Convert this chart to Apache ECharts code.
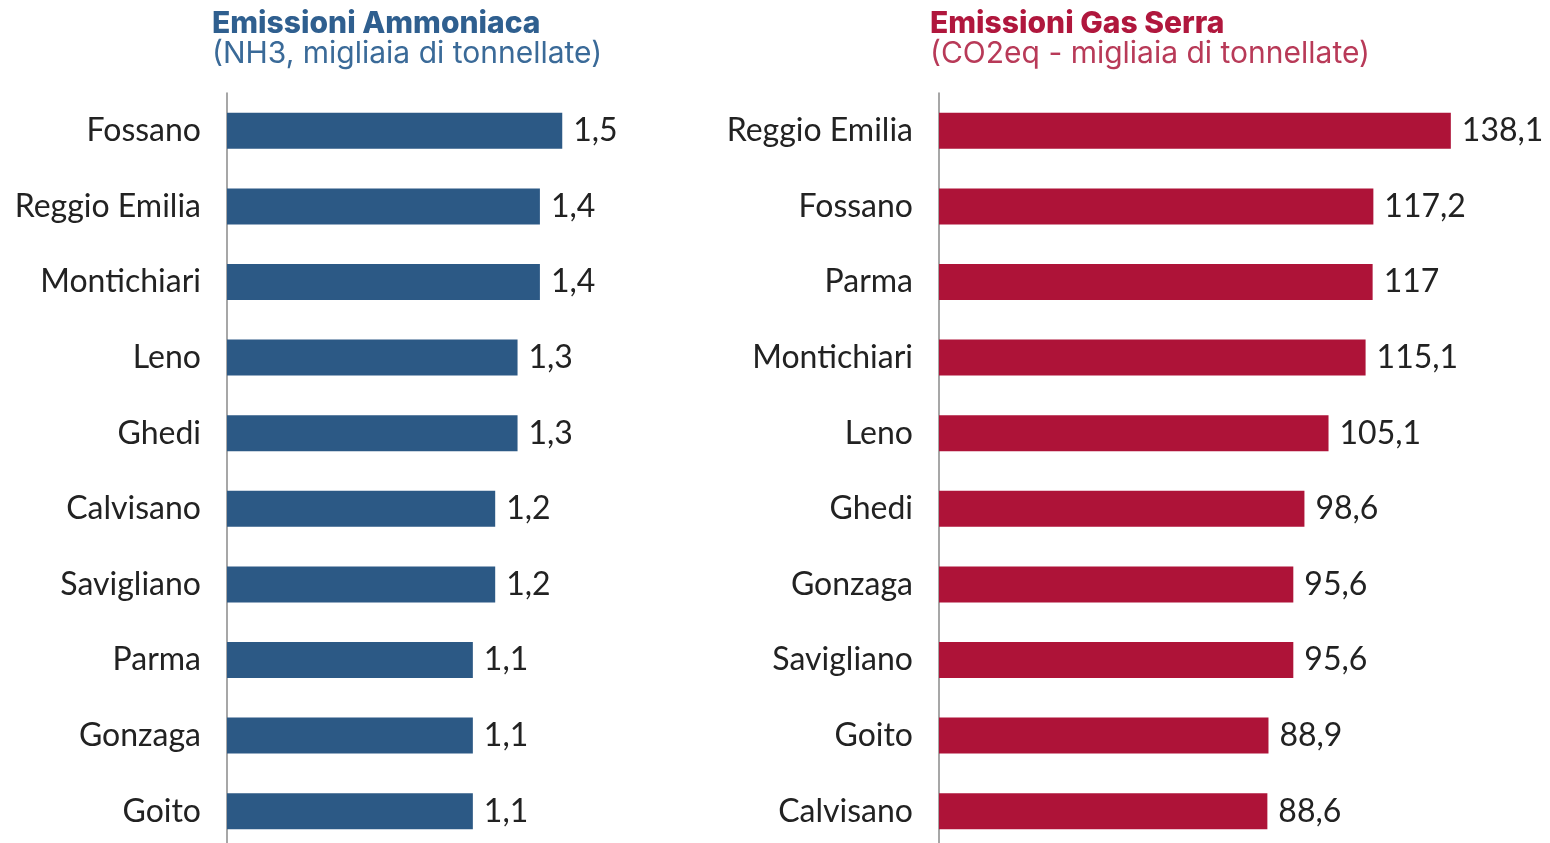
<!DOCTYPE html>
<html>
<head>
<meta charset="utf-8">
<script src="https://cdn.jsdelivr.net/npm/echarts@6/dist/echarts.min.js"></script>
<style>
  html, body { margin: 0; padding: 0; background: #fff; overflow: hidden; }
  #chart { width: 1550px; height: 870px; }
</style>
</head>
<body>
<div id="chart"></div>
<script>
// Ammonia emissions (NH3, thousand tonnes)
const nh3Cities = ['Fossano', 'Reggio Emilia', 'Montichiari', 'Leno', 'Ghedi', 'Calvisano', 'Savigliano', 'Parma', 'Gonzaga', 'Goito'];
const nh3Values = [1.5, 1.4, 1.4, 1.3, 1.3, 1.2, 1.2, 1.1, 1.1, 1.1];

// Greenhouse gas emissions (CO2eq, thousand tonnes)
const ghgCities = ['Reggio Emilia', 'Fossano', 'Parma', 'Montichiari', 'Leno', 'Ghedi', 'Gonzaga', 'Savigliano', 'Goito', 'Calvisano'];
const ghgValues = [138.1, 117.2, 117, 115.1, 105.1, 98.6, 95.6, 95.6, 88.9, 88.6];

const BLUE = '#2c5985';
const RED = '#ae1338';
const LABEL_FONT = 'Lato, "Open Sans", sans-serif';
const TITLE_FONT = 'Inter, "Open Sans", sans-serif';

const fmt = v => String(v).replace('.', ',');

const chart = echarts.init(document.getElementById('chart'), null, { renderer: 'canvas' });

function catAxis(idx, cats) {
  return {
    type: 'category', gridIndex: idx, data: cats, inverse: true,
    axisLine: { show: true, lineStyle: { color: '#8a8a8a', width: 1.5 } },
    axisTick: { show: false },
    axisLabel: { color: '#222', fontSize: 32, fontFamily: LABEL_FONT, margin: 26 }
  };
}
function valAxis(idx, max) {
  return {
    type: 'value', gridIndex: idx, min: 0, max: max,
    show: false, splitLine: { show: false }
  };
}
function barSeries(idx, values, color) {
  return {
    type: 'bar', xAxisIndex: idx, yAxisIndex: idx, data: values,
    barWidth: 36,
    itemStyle: { color: color },
    label: {
      show: true, position: 'right', distance: 11,
      color: '#222', fontSize: 32, fontFamily: LABEL_FONT,
      formatter: p => fmt(p.value)
    },
    silent: true
  };
}

chart.setOption({
  animation: false,
  backgroundColor: '#fff',
  title: [
    {
      text: 'Emissioni Ammoniaca', subtext: '(NH3, migliaia di tonnellate)',
      left: 207, top: 4, itemGap: 0,
      textStyle: { color: '#2f5f8f', fontSize: 30, fontWeight: 800, fontFamily: TITLE_FONT },
      subtextStyle: { color: '#3a6a98', fontSize: 30, fontWeight: 400, fontFamily: TITLE_FONT }
    },
    {
      text: 'Emissioni Gas Serra', subtext: '(CO2eq - migliaia di tonnellate)',
      left: 925, top: 4, itemGap: 0,
      textStyle: { color: '#b0173d', fontSize: 30, fontWeight: 800, fontFamily: TITLE_FONT },
      subtextStyle: { color: '#b83a58', fontSize: 30, fontWeight: 400, fontFamily: TITLE_FONT }
    }
  ],
  grid: [
    { left: 227, top: 93, width: 447, height: 756, containLabel: false },
    { left: 939, top: 93, width: 593, height: 756, containLabel: false }
  ],
  xAxis: [valAxis(0, 2), valAxis(1, 160)],
  yAxis: [catAxis(0, nh3Cities), catAxis(1, ghgCities)],
  series: [barSeries(0, nh3Values, BLUE), barSeries(1, ghgValues, RED)]
});
</script>
</body>
</html>
